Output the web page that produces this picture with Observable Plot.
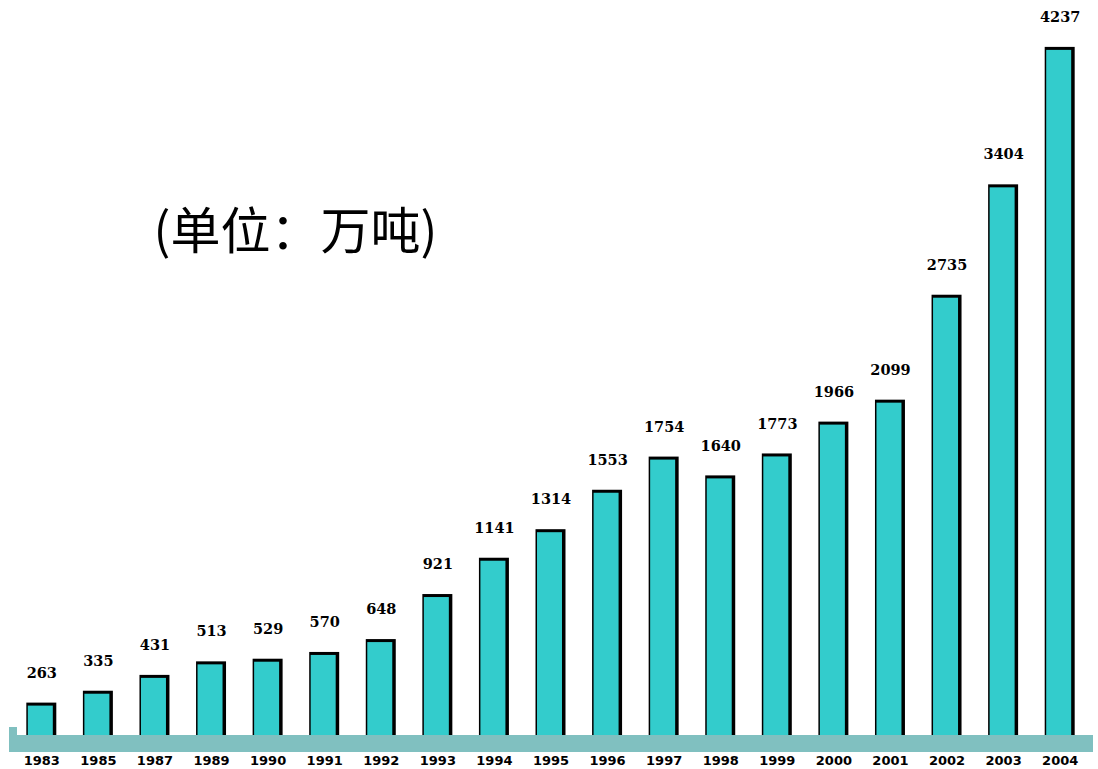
<!DOCTYPE html>
<html>
<head>
<meta charset="utf-8">
<script src="https://cdn.jsdelivr.net/npm/d3@7"></script>
<script src="https://cdn.jsdelivr.net/npm/@observablehq/plot@0.6"></script>
<style>
  html, body { margin: 0; padding: 0; background: #ffffff; }
  #chart svg { display: block; }
</style>
</head>
<body>
<div id="chart"></div>
<script>
const years = ["1983","1985","1987","1989","1990","1991","1992","1993","1994","1995","1996","1997","1998","1999","2000","2001","2002","2003","2004"];
const values = [263,335,431,513,529,570,648,921,1141,1314,1553,1754,1640,1773,1966,2099,2735,3404,4237];
const unitLabel = "(单位：万吨)";

const data = years.map((year, i) => ({year, value: values[i]}));

// 3D-like floor slab drawn relative to the y=0 baseline
function floor(index, scales, values, dimensions) {
  const y0 = scales.y(0);
  const g = d3.create("svg:g");
  const x1 = 9, x2 = dimensions.width - 5;
  g.append("rect").attr("x", x1).attr("y", y0 - 11).attr("width", x2 - x1).attr("height", 17).attr("fill", "#80c0c0");
  g.append("rect").attr("x", x1).attr("y", y0 - 19).attr("width", 8).attr("height", 8).attr("fill", "#80c0c0");
  return g.node();
}

const chart = Plot.plot({
  width: 1098,
  height: 769,
  marginLeft: 15,
  marginRight: 12,
  marginTop: 20,
  marginBottom: 23,
  x: {domain: years, paddingInner: 0.47, paddingOuter: 0.2, round: false},
  y: {domain: [0, 4400], axis: null},
  marks: [
    Plot.barY(data, {x: "year", y: "value", fill: "#000000"}),
    Plot.barY(data, {x: "year", y: "value", fill: "#33cccc", insetLeft: 1.5, insetRight: 3.5, insetTop: 3}),
    floor,
    Plot.axisX({tickSize: 0, tickPadding: 9, fontSize: 13, fontWeight: "bold", fontFamily: "DejaVu Sans, sans-serif", fill: "#000", label: null}),
    Plot.text(data, {x: "year", y: "value", text: d => String(d.value), dy: -30, fontSize: 14.5, fontWeight: "bold", fontFamily: "DejaVu Serif, serif", fill: "#000"}),
    Plot.text([unitLabel], {frameAnchor: "top-left", textAnchor: "start", lineAnchor: "middle", dx: 138, dy: 212, fontSize: 50, fontFamily: "Noto Sans CJK SC", fill: "#000"})
  ]
});
document.getElementById("chart").appendChild(chart);
</script>
</body>
</html>
